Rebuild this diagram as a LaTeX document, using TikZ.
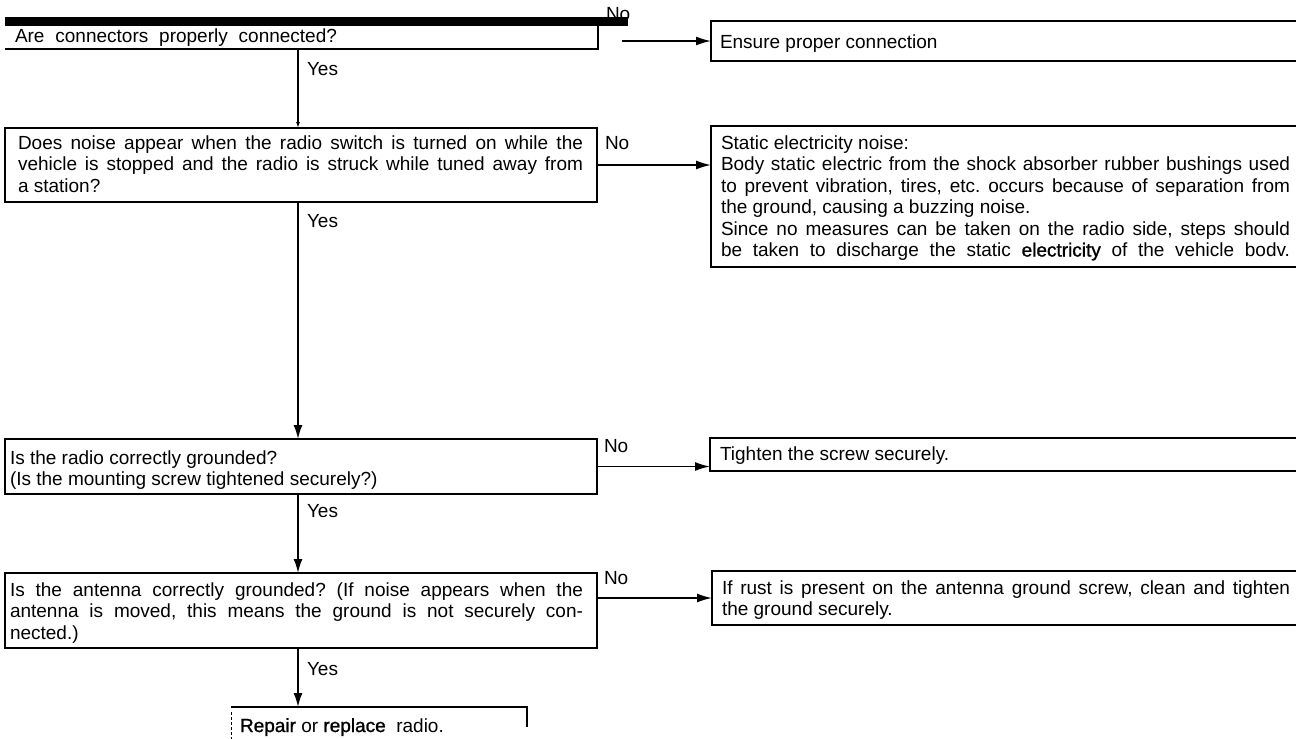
\documentclass[tikz,border=0pt]{standalone}
\usepackage{fontspec}
\setmainfont{Liberation Sans}
\newfontfamily\dk[FakeBold=1.2]{Liberation Sans}
\usetikzlibrary{arrows.meta}
\frenchspacing
\newcommand{\fl}{\rule{0pt}{14pt}}
\newcommand{\jl}[2]{\makebox[#1][s]{#2}}
\begin{document}
\begin{tikzpicture}[x=1pt,y=-1pt,
  every node/.style={inner sep=0pt, outer sep=0pt},
  txt/.style={anchor=north west, align=left, font=\fontsize{19}{21.5}\selectfont\frenchspacing},
  lbl/.style={anchor=base west, font=\fontsize{19}{21.5}\selectfont},
  boxn/.style={draw, line width=1.7pt, anchor=north west},
  area/.style={anchor=north west},
  arr/.style={line width=1.6pt, -{Latex[length=15pt,width=9pt]}},
  varr/.style={line width=1.6pt, -{Latex[length=14pt,width=9pt]}},
  ln/.style={line width=1.7pt}]
\useasboundingbox (0,0) rectangle (1296,739);
\coordinate (vx) at (298,0);

% Question 1
\node[area, minimum width=593pt, minimum height=32pt] (q1) at (5,17) {};
\node[txt] (t1) at (15,28) {\fl\jl{322pt}{Are connectors properly connected?}};
\node[lbl] (n1) at (606,20) {No};
\fill (5,17) rectangle (628,26);
\draw[ln] ([yshift=-9pt]q1.north east) -- (q1.south east) -- (q1.south west);
\node[boxn, minimum width=600pt, minimum height=40pt] (e1) at (711,21) {};
\node[txt] (te1) at (720,34) {\fl Ensure proper connection};
\coordinate (s1) at (622,41);
\node[lbl] (y1) at (307,75) {Yes};

% Question 2
\node[boxn, minimum width=592pt, minimum height=74pt] (q2) at (5,128) {};
\node[txt] (t2) at (18,135) {\fl\jl{565pt}{Does noise appear when the radio switch is turned on while the}\\
\jl{565pt}{vehicle is stopped and the radio is struck while tuned away from}\\
a station?};
\node[lbl] (n2) at (605,149) {No};
\node[boxn, minimum width=600pt, minimum height=141pt] (a2) at (711,126) {};
\node[txt] (ta2) at (721,135) {\fl Static electricity noise:\\
\jl{569pt}{Body static electric from the shock absorber rubber bushings used}\\
\jl{569pt}{to prevent vibration, tires, etc. occurs because of separation from}\\
the ground, causing a buzzing noise.\\
\jl{569pt}{Since no measures can be taken on the radio side, steps should}\\
\jl{569pt}{be taken to discharge the static {\dk electricity} of the vehicle bodv.}};
\node[lbl] (y2) at (307,227) {Yes};

% Question 3
\node[boxn, minimum width=592pt, minimum height=55pt] (q3) at (5,439) {};
\node[txt] (t3) at (10,450) {\fl Is the radio correctly grounded?\\
(Is the mounting screw tightened securely?)};
\node[lbl] (n3) at (604,452) {No};
\node[boxn, minimum width=600pt, minimum height=33pt] (a3) at (710,438) {};
\node[txt] (ta3) at (720,446) {\fl Tighten the screw securely.};
\node[lbl] (y3) at (307,517) {Yes};

% Question 4
\node[boxn, minimum width=592pt, minimum height=75pt] (q4) at (5,573) {};
\node[txt] (t4) at (10,582) {\fl\jl{573pt}{Is the antenna correctly grounded? (If noise appears when the}\\
\jl{573pt}{antenna is moved, this means the ground is not securely con-}\\
nected.)};
\node[lbl] (n4) at (604,584) {No};
\node[boxn, minimum width=600pt, minimum height=54pt] (a4) at (712,571) {};
\node[txt] (ta4) at (722,580) {\fl\jl{568pt}{If rust is present on the antenna ground screw, clean and tighten}\\
the ground securely.};
\node[lbl] (y4) at (307,675) {Yes};

% Final
\node[area, minimum width=296pt, minimum height=50pt] (rep) at (231,707) {};
\node[txt] (trep) at (240,718) {\fl{\dk Repair} or {\dk replace}\ \ radio.};
\draw[ln] (rep.north west) -- (rep.north east) -- ([yshift=-20pt]rep.north east);
\draw[line width=1pt, dash pattern=on 3pt off 2pt] ([yshift=-5pt]rep.north west) -- (rep.south west);

% Connectors
\draw[arr] (s1) -- (s1 -| e1.west);
\draw[line width=1.6pt, -{Latex[length=6pt,width=4pt]}] (q1.south -| vx) -- (q2.north -| vx);
\draw[arr] (q2.east) -- (q2.east -| a2.west);
\draw[varr] (q2.south -| vx) -- (q3.north -| vx);
\draw[arr] (q3.east) -- (q3.east -| a3.west);
\draw[varr] (q3.south -| vx) -- (q4.north -| vx);
\draw[arr] (q4.east |- a4.west) -- (a4.west);
\draw[varr] (q4.south -| vx) -- (rep.north -| vx);
\end{tikzpicture}
\end{document}
